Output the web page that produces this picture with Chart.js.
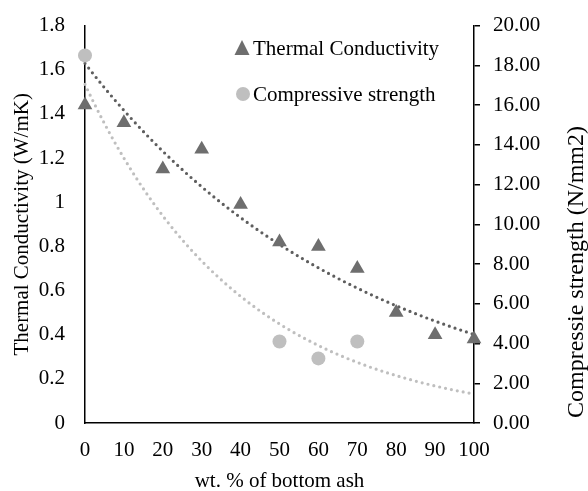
<!DOCTYPE html>
<html>
<head>
<meta charset="utf-8">
<script src="https://cdn.jsdelivr.net/npm/chart.js@4.4.0/dist/chart.umd.min.js"></script>
<style>
  html, body { margin: 0; padding: 0; background: #fff; }
  #wrap { width: 588px; height: 491px; position: relative; }
</style>
</head>
<body>
<div id="wrap"><canvas id="ashChart" width="588" height="491"></canvas></div>
<script>
const bottomAsh = [0, 10, 20, 30, 40, 50, 60, 70, 80, 90, 100];
const thermalConductivity = [1.44, 1.36, 1.15, 1.24, 0.99, 0.82, 0.80, 0.70, 0.50, 0.40, 0.38];
const strengthAsh = [0, 50, 60, 70];
const compressiveStrength = [18.5, 4.1, 3.25, 4.1];

const serif = '"Liberation Serif", "Times New Roman", serif';
const darkGrey = '#6e6e6e';
const lightGrey = '#bfbfbf';

// exponential least squares fit, same as a spreadsheet trendline
function expFit(xs, ys) {
    const n = xs.length;
    const lys = ys.map(v => Math.log(v));
    const mx = xs.reduce((a, b) => a + b, 0) / n;
    const my = lys.reduce((a, b) => a + b, 0) / n;
    let sxy = 0, sxx = 0;
    xs.forEach((x, i) => {
        sxy += (x - mx) * (lys[i] - my);
        sxx += (x - mx) * (x - mx);
    });
    const b = sxy / sxx;
    const a = Math.exp(my - b * mx);
    return x => a * Math.exp(b * x);
}

const trendPlugin = {
    id: 'trendLines',
    beforeDatasetsDraw(chart) {
        const ctx = chart.ctx;
        const xs = chart.scales.x;
        chart.data.datasets.forEach(ds => {
            const f = expFit(ds.data.map(p => p.x), ds.data.map(p => p.y));
            const ys = chart.scales[ds.yAxisID];
            ctx.save();
            ctx.beginPath();
            for (let v = xs.min; v <= xs.max; v += 1) {
                const px = xs.getPixelForValue(v);
                const py = ys.getPixelForValue(f(v));
                if (v === xs.min) ctx.moveTo(px, py); else ctx.lineTo(px, py);
            }
            ctx.setLineDash([0, 6]);
            ctx.lineCap = 'round';
            ctx.lineWidth = 3.2;
            ctx.strokeStyle = ds.trendColor;
            ctx.stroke();
            ctx.restore();
        });
    },
    afterDraw(chart) {
        const ctx = chart.ctx;
        const area = chart.chartArea;
        ctx.save();
        // legend inside the plot
        const lx = area.left + 157;
        ctx.fillStyle = darkGrey;
        ctx.beginPath();
        ctx.moveTo(lx, 40);
        ctx.lineTo(lx + 7.5, 55);
        ctx.lineTo(lx - 7.5, 55);
        ctx.closePath();
        ctx.fill();
        ctx.fillStyle = lightGrey;
        ctx.beginPath();
        ctx.arc(lx + 1, 94, 7, 0, Math.PI * 2);
        ctx.fill();
        ctx.fillStyle = '#000';
        ctx.font = '21px ' + serif;
        ctx.textBaseline = 'middle';
        ctx.textAlign = 'left';
        ctx.fillText(chart.data.datasets[0].label, lx + 11, 49);
        ctx.fillText(chart.data.datasets[1].label, lx + 11, 95);
        // right axis title reads bottom to top
        ctx.font = '24px ' + serif;
        ctx.translate(577, 272);
        ctx.rotate(-Math.PI / 2);
        ctx.textAlign = 'center';
        ctx.fillText('Compressie strength (N/mm2)', 0, 0);
        ctx.restore();
    }
};

Chart.defaults.font.family = serif;
Chart.defaults.font.size = 21;
Chart.defaults.color = '#000';

new Chart(document.getElementById('ashChart'), {
    type: 'scatter',
    data: {
        datasets: [{
            label: 'Thermal Conductivity',
            data: bottomAsh.map((x, i) => ({ x: x, y: thermalConductivity[i] })),
            yAxisID: 'y',
            pointStyle: 'triangle',
            pointRadius: 8.5,
            pointBackgroundColor: darkGrey,
            pointBorderWidth: 0,
            trendColor: '#5e5e5e',
            clip: false
        }, {
            label: 'Compressive strength',
            data: strengthAsh.map((x, i) => ({ x: x, y: compressiveStrength[i] })),
            yAxisID: 'y2',
            pointStyle: 'circle',
            pointRadius: 7,
            pointBackgroundColor: lightGrey,
            pointBorderWidth: 0,
            trendColor: lightGrey,
            clip: false
        }]
    },
    options: {
        responsive: false,
        animation: false,
        layout: { padding: { top: 13, left: 0, right: 0, bottom: 0 } },
        plugins: {
            legend: { display: false },
            tooltip: { enabled: false }
        },
        scales: {
            x: {
                type: 'linear',
                min: 0,
                max: 100,
                ticks: { stepSize: 10, padding: 7 },
                grid: { display: false },
                border: { display: true, color: '#000', width: 1.5 },
                title: {
                    display: true,
                    text: 'wt. % of bottom ash',
                    padding: { top: 0, bottom: -3 }
                },
                afterFit: s => { s.height = 68; }
            },
            y: {
                position: 'left',
                min: 0,
                max: 1.8,
                ticks: {
                    stepSize: 0.2,
                    padding: 12,
                    callback: v => String(Math.round(v * 10) / 10)
                },
                grid: { display: false },
                border: { display: true, color: '#000', width: 1.5 },
                title: {
                    display: true,
                    text: 'Thermal Conductivity (W/mK)',
                    padding: { top: 9.5, bottom: 0 }
                },
                afterFit: s => { s.width = 85; }
            },
            y2: {
                position: 'right',
                min: 0,
                max: 20,
                ticks: {
                    stepSize: 2,
                    padding: 13,
                    callback: v => v.toFixed(2)
                },
                grid: {
                    display: true,
                    drawOnChartArea: false,
                    drawTicks: true,
                    tickLength: 6,
                    color: '#000',
                    lineWidth: 1.5
                },
                border: { display: true, color: '#000', width: 1.5 },
                afterFit: s => { s.width = 114; }
            }
        }
    },
    plugins: [trendPlugin]
});
</script>
</body>
</html>
